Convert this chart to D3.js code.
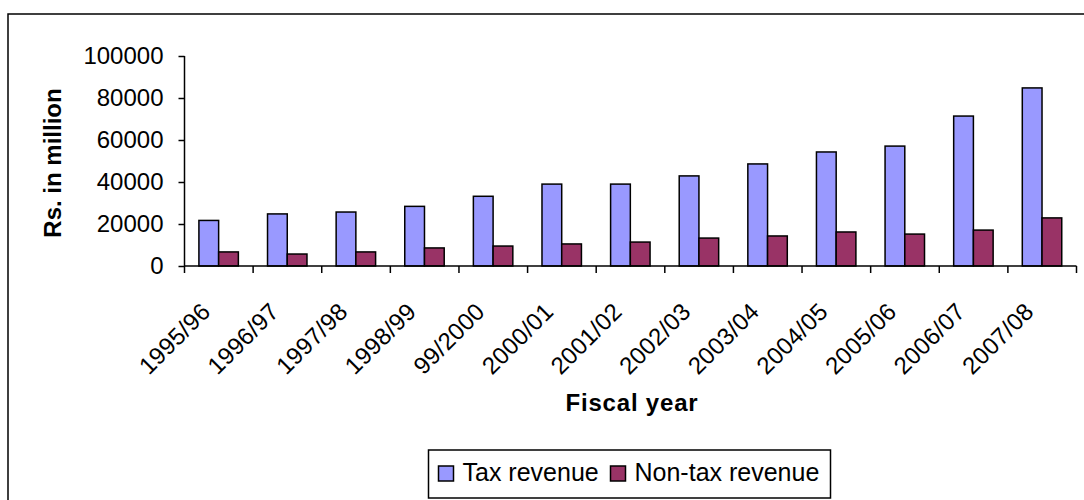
<!DOCTYPE html>
<html>
<head>
<meta charset="utf-8">
<script src="https://cdn.jsdelivr.net/npm/d3@7"></script>
<style>
  html, body { margin: 0; padding: 0; background: #fff; }
  svg { display: block; font-family: "Liberation Sans", Arial, sans-serif; }
</style>
</head>
<body>
<svg id="chart" width="1084" height="500"></svg>
<script>
// Fiscal years and revenue (Rs. in million)
const years = ["1995/96", "1996/97", "1997/98", "1998/99", "99/2000", "2000/01", "2001/02",
               "2002/03", "2003/04", "2004/05", "2005/06", "2006/07", "2007/08"];
const taxRevenue    = [21700, 24800, 25700, 28400, 33200, 39000, 39000, 42900, 48600, 54300, 57100, 71400, 84800];
const nonTaxRevenue = [6700, 5700, 6700, 8600, 9500, 10500, 11400, 13300, 14300, 16200, 15200, 17100, 22900];
const seriesNames = ["Tax revenue", "Non-tax revenue"];
const yTicks = [0, 20000, 40000, 60000, 80000, 100000];

const colors = { "Tax revenue": "#9999ff", "Non-tax revenue": "#993366" };

const svg = d3.select("#chart");

// outer chart frame
svg.append("rect")
  .attr("x", 8).attr("y", 14)
  .attr("width", 1090).attr("height", 500)
  .attr("fill", "none").attr("stroke", "#000").attr("stroke-width", 1.5);

const plot = { left: 184.5, right: 1076.5, top: 56, bottom: 266 };

const x0 = d3.scaleBand().domain(years).range([plot.left, plot.right]);
const x1 = d3.scaleBand().domain(seriesNames)
  .range([x0.bandwidth() * 0.21, x0.bandwidth() * 0.785]);
const y = d3.scaleLinear().domain([0, 100000]).range([plot.bottom, plot.top]);

const rows = years.map((yr, i) => ({
  year: yr,
  values: [
    { key: "Tax revenue", value: taxRevenue[i] },
    { key: "Non-tax revenue", value: nonTaxRevenue[i] }
  ]
}));

// bars
const groups = svg.append("g").selectAll("g").data(rows).join("g")
  .attr("transform", d => `translate(${x0(d.year)},0)`);
groups.selectAll("rect").data(d => d.values).join("rect")
  .attr("x", d => x1(d.key))
  .attr("y", d => y(d.value))
  .attr("width", x1.bandwidth())
  .attr("height", d => y(0) - y(d.value))
  .attr("fill", d => colors[d.key])
  .attr("stroke", "#000")
  .attr("stroke-width", 1.5);

// y axis
const yAxis = svg.append("g")
  .attr("transform", `translate(${plot.left},0)`)
  .call(d3.axisLeft(y).tickValues(yTicks).tickSize(6).tickPadding(15).tickFormat(d3.format("d")));
yAxis.select(".domain").attr("stroke", "#000").attr("stroke-width", 1.5)
  .attr("d", `M0,${plot.top}V${plot.bottom}`);
yAxis.selectAll(".tick line").attr("stroke", "#000").attr("stroke-width", 1.5);
yAxis.selectAll(".tick text").attr("font-size", 24).attr("fill", "#000")
  .attr("font-family", "'Liberation Sans', Arial, sans-serif");

// x axis line and category boundary ticks
const xAxis = svg.append("g");
xAxis.append("line")
  .attr("x1", plot.left).attr("x2", plot.right)
  .attr("y1", y(0)).attr("y2", y(0))
  .attr("stroke", "#000").attr("stroke-width", 1.5);
const bounds = years.map(d => x0(d)).concat([x0(years[years.length - 1]) + x0.bandwidth()]);
xAxis.selectAll("line.tk").data(bounds).join("line")
  .attr("class", "tk")
  .attr("x1", d => d).attr("x2", d => d)
  .attr("y1", y(0)).attr("y2", y(0) + 7)
  .attr("stroke", "#000").attr("stroke-width", 1.5);

// rotated category labels
xAxis.selectAll("text").data(years).join("text")
  .attr("transform", d => `translate(${x0(d) + x0.bandwidth() / 2 - 7},${y(0) + 47}) rotate(-45)`)
  .attr("text-anchor", "end")
  .attr("font-size", 24)
  .attr("letter-spacing", 0.3)
  .attr("fill", "#000")
  .text(d => d);

// axis titles
svg.append("text")
  .attr("transform", `translate(61,163) rotate(-90)`)
  .attr("text-anchor", "middle")
  .attr("font-size", 24).attr("font-weight", "bold")
  .text("Rs. in million");

svg.append("text")
  .attr("x", 632).attr("y", 411)
  .attr("text-anchor", "middle")
  .attr("font-size", 24).attr("font-weight", "bold")
  .attr("letter-spacing", 0.8)
  .text("Fiscal year");

// legend
const legend = svg.append("g");
legend.append("rect")
  .attr("x", 428.5).attr("y", 450)
  .attr("width", 402).attr("height", 48)
  .attr("fill", "#fff").attr("stroke", "#000").attr("stroke-width", 1.5);

const legendX = d3.scaleOrdinal().domain(seriesNames).range([438.5, 610.5]);
const items = legend.selectAll("g.item").data(seriesNames).join("g")
  .attr("class", "item")
  .attr("transform", d => `translate(${legendX(d)},0)`);
items.append("rect")
  .attr("x", 0).attr("y", 466)
  .attr("width", 15).attr("height", 15)
  .attr("fill", d => colors[d]).attr("stroke", "#000").attr("stroke-width", 1.5);
items.append("text")
  .attr("x", 24).attr("y", 481)
  .attr("font-size", 25)
  .attr("fill", "#000")
  .text(d => d);
</script>
</body>
</html>
